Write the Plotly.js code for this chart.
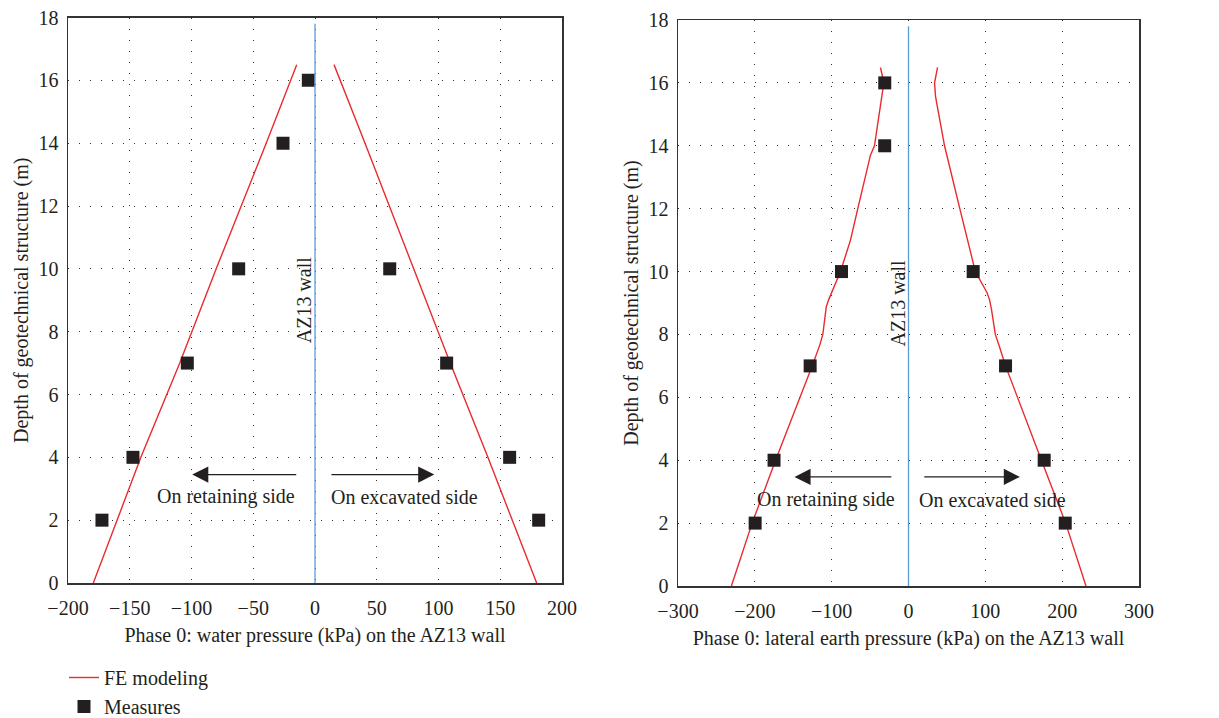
<!DOCTYPE html>
<html>
<head>
<meta charset="utf-8">
<script src="https://cdn.plot.ly/plotly-3.0.1.min.js"></script>
<style>html,body{margin:0;padding:0;background:#fff;}#chart{width:1219px;height:718px;}</style>
</head>
<body>
<div id="chart"></div>
<script>
// ---- Left panel: water pressure ----
const waterFeRetDepth = [0, 2, 4, 7, 10, 14, 16.5];
const waterFeRetP     = [-179.5, -160.5, -141, -109.5, -80, -39.5, -14.8];
const waterFeExcDepth = [0, 2, 4, 7, 10, 14, 16.5];
const waterFeExcP     = [179.5, 159.8, 140, 109.5, 80, 40.5, 15.4];
const waterMeasRetDepth = [16, 14, 10, 7, 4, 2];
const waterMeasRetP     = [-5.4, -25.9, -61.8, -103.4, -147.4, -172.5];
const waterMeasExcDepth = [10, 7, 4, 2];
const waterMeasExcP     = [60.5, 106.6, 157.6, 181.1];

// ---- Right panel: lateral earth pressure ----
const earthFeRetDepth = [0, 2, 4, 6, 7, 7.66, 8, 8.88, 9.1, 10, 11, 12, 13.7, 14, 16, 16.49];
const earthFeRetP     = [-230.5, -203.5, -173, -140.6, -125.4, -115.5, -111.5, -107, -104, -88.5, -75.5, -66, -49.5, -44.3, -32.1, -36.5];
const earthFeExcDepth = [0, 2, 4, 6, 7, 7.6, 8, 8.8, 9.1, 9.32, 10, 12, 13.7, 14, 15.56, 16, 16.49];
const earthFeExcP     = [231, 204.5, 173, 141.5, 126.3, 118.5, 113, 108, 105.5, 102.4, 87, 66.8, 49.5, 46.9, 35.2, 33.9, 37.8];
const earthMeasRetDepth = [16, 14, 10, 7, 4, 2];
const earthMeasRetP     = [-30.9, -31, -87.2, -128, -175, -199.6];
const earthMeasExcDepth = [10, 7, 4, 2];
const earthMeasExcP     = [84.2, 126.3, 176.6, 204];

// ---- axes / labels ----
const waterTicks = [-200, -150, -100, -50, 0, 50, 100, 150, 200];
const earthTicks = [-300, -200, -100, 0, 100, 200, 300];
const depthTicks = [0, 2, 4, 6, 8, 10, 12, 14, 16, 18];
const wallLabel = "AZ13 wall";
const wallTop = 17.8, wallBottom = -0.15;
const legendNames = ["FE modeling", "Measures"];

const RED = "#ea2a2f", DARK = "#231f20", BLUE = "#5b9bd5";
const FONT = "Liberation Serif, Times New Roman, serif";
const FS = 20;

function feTrace(x, y, xa, ya, show) {
  return {x: x, y: y, xaxis: xa, yaxis: ya, type: "scatter", mode: "lines",
    line: {color: RED, width: 1.4}, name: legendNames[0], legendgroup: "fe",
    showlegend: show, hoverinfo: "skip"};
}
function measTrace(x, y, xa, ya, show) {
  return {x: x, y: y, xaxis: xa, yaxis: ya, type: "scatter", mode: "markers",
    marker: {symbol: "square", size: 13, color: DARK}, name: legendNames[1],
    legendgroup: "m", showlegend: show, hoverinfo: "skip"};
}

const data = [
  feTrace(waterFeRetP, waterFeRetDepth, "x", "y", true),
  feTrace(waterFeExcP, waterFeExcDepth, "x", "y", false),
  feTrace(earthFeRetP, earthFeRetDepth, "x2", "y2", false),
  feTrace(earthFeExcP, earthFeExcDepth, "x2", "y2", false),
  measTrace(waterMeasRetP, waterMeasRetDepth, "x", "y", true),
  measTrace(waterMeasExcP, waterMeasExcDepth, "x", "y", false),
  measTrace(earthMeasRetP, earthMeasRetDepth, "x2", "y2", false),
  measTrace(earthMeasExcP, earthMeasExcDepth, "x2", "y2", false)
];

function xAxis(range, ticks, domain, title, anchor) {
  return {domain: domain, range: range, tickvals: ticks, anchor: anchor,
    showline: true, mirror: true, linecolor: "#333", linewidth: 1.5,
    showgrid: true, gridcolor: "#333", gridwidth: 1, griddash: "1px,10px",
    zeroline: false, ticks: "", ticklabelstandoff: 6,
    tickfont: {family: FONT, size: FS, color: DARK},
    title: {text: title, font: {family: FONT, size: FS, color: DARK}, standoff: 10},
    automargin: false};
}
function yAxis(domain, anchor) {
  return {domain: domain, range: [0, 18], tickvals: depthTicks, anchor: anchor,
    showline: true, mirror: true, linecolor: "#333", linewidth: 1.5,
    showgrid: true, gridcolor: "#333", gridwidth: 1, griddash: "1px,10px",
    zeroline: false, ticks: "", ticklabelstandoff: 4,
    tickfont: {family: FONT, size: FS, color: DARK},
    title: {text: "Depth of geotechnical structure (m)", font: {family: FONT, size: FS, color: DARK}, standoff: 4},
    automargin: false};
}

const W = 1219, H = 718;
const layout = {
  width: W, height: H,
  margin: {l: 0, r: 0, t: 0, b: 0, autoexpand: false},
  paper_bgcolor: "#fff", plot_bgcolor: "#fff",
  font: {family: FONT, size: FS, color: DARK},
  xaxis: xAxis([-200, 200], waterTicks, [68/W, 562/W], "Phase 0: water pressure (kPa) on the AZ13 wall", "y"),
  yaxis: yAxis([1 - 583/H, 1 - 17.5/H], "x"),
  xaxis2: xAxis([-300, 300], earthTicks, [678/W, 1139/W], "Phase 0: lateral earth pressure (kPa) on the AZ13 wall", "y2"),
  yaxis2: yAxis([1 - 586/H, 1 - 20/H], "x2"),
  showlegend: true,
  legend: {x: 64/W, y: 1 - 658/H, xanchor: "left", yanchor: "top", orientation: "v",
    bgcolor: "rgba(0,0,0,0)", font: {family: FONT, size: FS, color: DARK}, tracegroupgap: 0, itemwidth: 30},
  shapes: [
    {type: "line", xref: "x", yref: "y", x0: 0, x1: 0, y0: wallBottom, y1: wallTop, line: {color: BLUE, width: 1.3}},
    {type: "line", xref: "x2", yref: "y2", x0: 0, x1: 0, y0: wallBottom, y1: wallTop, line: {color: BLUE, width: 1.3}}
  ],
  annotations: []
};

function sideNotes(xa, ya, retTail, retHead, excTail, excHead, arrY, retTextX, excTextX, textY) {
  const A = [];
  A.push({xref: xa, yref: ya, axref: xa, ayref: ya, x: retHead, y: arrY, ax: retTail, ay: arrY,
    showarrow: true, arrowhead: 2, arrowsize: 2.3, arrowwidth: 1.4, arrowcolor: DARK, text: ""});
  A.push({xref: xa, yref: ya, axref: xa, ayref: ya, x: excHead, y: arrY, ax: excTail, ay: arrY,
    showarrow: true, arrowhead: 2, arrowsize: 2.3, arrowwidth: 1.4, arrowcolor: DARK, text: ""});
  A.push({xref: xa, yref: ya, x: retTextX, y: textY, text: "On retaining side", showarrow: false,
    font: {family: FONT, size: FS, color: DARK}});
  A.push({xref: xa, yref: ya, x: excTextX, y: textY, text: "On excavated side", showarrow: false,
    font: {family: FONT, size: FS, color: DARK}});
  A.push({xref: xa, yref: ya, x: 0, y: 9.0, text: wallLabel, textangle: -90, showarrow: false,
    xshift: -11, font: {family: FONT, size: FS, color: DARK}});
  return A;
}
layout.annotations = layout.annotations.concat(
  sideNotes("x", "y", -14, -99.4, 12.1, 96.6, 3.45, -72, 72.5, 2.75),
  sideNotes("x2", "y2", -20.4, -148.4, 18.6, 145, 3.47, -108, 109.4, 2.74)
);

Plotly.newPlot("chart", data, layout, {displayModeBar: false, staticPlot: true});
</script>
</body>
</html>
